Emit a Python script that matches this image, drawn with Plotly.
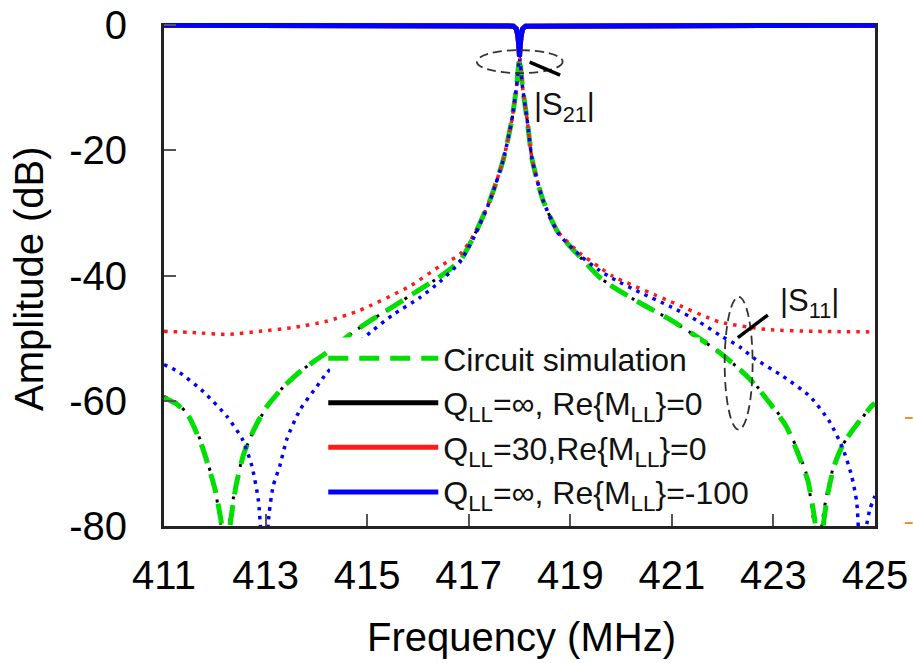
import plotly.graph_objects as go

FONT = "Liberation Sans, Arial, sans-serif"

# ---------------- data ----------------
# |S21| (all cases overlap at 0 dB with a narrow dip at 418 MHz)
s21_freq = [411.0, 417.88, 417.94, 417.97, 417.99, 418.0, 418.01, 418.03, 418.06, 418.12, 425.0]
s21_db = [0.0, -0.15, -0.6, -1.8, -3.6, -5.0, -3.6, -1.8, -0.6, -0.15, 0.0]

# |S11|, Q_LL = inf, Re{M_LL} = 0 (black)
s11_black_freq = [411.0, 411.25, 411.5, 411.75, 412.0, 412.12, 412.2, 412.28, 412.4, 412.55, 412.75,
                  413.0, 413.35, 413.7, 414.2, 414.75, 415.1, 415.5, 416.0, 416.43, 416.83, 417.12,
                  417.42, 417.68, 417.85, 417.94, 417.98, 418.0, 418.02, 418.06, 418.15, 418.25,
                  418.46, 418.76, 419.19, 419.58, 419.84, 420.4, 420.96, 421.5, 421.94, 422.34,
                  422.6, 422.93, 423.26, 423.52, 423.66, 423.8, 423.87, 423.95, 424.05, 424.17,
                  424.35, 424.64, 424.94, 425.0]
s11_black_db = [-59.3, -60.3, -62.5, -67.0, -74.0, -80.0, -88.0, -80.0, -74.0, -69.0, -65.0,
                -61.3, -57.8, -55.2, -52.3, -48.9, -47.0, -45.0, -42.4, -40.2, -37.6, -33.4,
                -27.9, -21.5, -15.1, -9.9, -6.5, -5.2, -6.5, -9.9, -15.1, -21.5,
                -27.9, -33.1, -37.0, -40.3, -41.8, -44.5, -47.0, -49.8, -52.3, -55.0,
                -57.0, -60.2, -64.0, -68.8, -72.0, -80.0, -88.0, -80.0, -75.0, -70.9,
                -67.2, -64.0, -60.6, -60.2]

# Circuit simulation (green), nearly identical to the black curve
s11_green_freq = [411.0, 411.25, 411.5, 411.75, 412.0, 412.14, 412.22, 412.3, 412.42, 412.57, 412.77,
                  413.0, 413.35, 413.7, 414.2, 414.75, 415.1, 415.5, 416.0, 416.43, 416.83, 417.12,
                  417.42, 417.68, 417.85, 417.94, 417.98, 418.0, 418.02, 418.06, 418.15, 418.25,
                  418.46, 418.76, 419.19, 419.58, 419.84, 420.4, 420.96, 421.5, 421.94, 422.34,
                  422.6, 422.93, 423.26, 423.52, 423.68, 423.83, 423.9, 423.98, 424.08, 424.2,
                  424.38, 424.66, 424.94, 425.0]
s11_green_db = [-59.5, -60.5, -62.7, -67.3, -74.0, -80.0, -88.0, -80.0, -73.5, -68.5, -64.6,
                -61.2, -57.8, -55.2, -52.3, -48.9, -47.0, -45.0, -42.4, -40.2, -37.6, -33.4,
                -27.9, -21.5, -15.1, -9.9, -6.5, -5.2, -6.5, -9.9, -15.1, -21.5,
                -27.9, -33.1, -37.0, -40.3, -41.8, -44.5, -47.0, -49.8, -52.3, -55.0,
                -57.1, -60.4, -64.2, -69.2, -72.8, -80.0, -88.0, -80.0, -74.5, -70.3,
                -66.8, -63.6, -60.8, -60.4]

# |S11|, Q_LL = 30, Re{M_LL} = 0 (red)
s11_red_freq = [411.0, 411.57, 412.24, 412.89, 413.54, 414.2, 414.84, 415.84, 416.43, 416.83, 417.12,
                417.42, 417.68, 417.85, 417.94, 417.98, 418.0, 418.02, 418.06, 418.15, 418.25,
                418.46, 418.76, 419.19, 419.58, 419.84, 420.96, 421.94, 422.86, 423.85, 425.0]
s11_red_db = [-48.9, -49.1, -49.4, -48.9, -48.3, -47.3, -45.6, -41.7, -38.5, -36.6, -33.2,
              -27.9, -21.5, -15.1, -9.9, -6.5, -5.2, -6.5, -9.9, -15.1, -21.5,
              -27.9, -33.0, -36.4, -38.7, -40.1, -44.1, -47.4, -48.6, -48.9, -49.0]

# |S11|, Q_LL = inf, Re{M_LL} = -100 (blue)
s11_blue_freq = [411.0, 411.31, 411.77, 412.24, 412.54, 412.73, 412.86, 412.97, 413.07, 413.15, 413.28,
                 413.42, 413.68, 414.01, 414.21, 414.6, 415.06, 415.5, 416.04, 416.43, 416.83, 417.12,
                 417.42, 417.68, 417.85, 417.94, 417.98, 418.0, 418.02, 418.06, 418.15, 418.25,
                 418.46, 418.76, 419.19, 419.58, 419.84, 420.4, 420.96, 421.5, 421.94, 422.34,
                 422.6, 423.19, 423.72, 424.11, 424.37, 424.54, 424.64, 424.72, 424.82, 424.9, 425.0]
s11_blue_db = [-54.2, -55.5, -58.5, -62.5, -66.1, -70.4, -76.0, -88.0, -78.0, -73.6, -70.4,
               -66.1, -61.4, -57.7, -55.5, -52.3, -49.1, -46.3, -43.5, -41.0, -37.8, -33.6,
               -28.0, -21.5, -15.1, -9.9, -6.5, -5.2, -6.5, -9.9, -15.1, -21.5,
               -27.9, -33.2, -36.8, -39.2, -40.5, -42.8, -44.9, -47.2, -49.5, -51.4,
               -53.1, -56.1, -59.3, -63.4, -67.7, -72.0, -76.2, -86.0, -80.5, -77.3, -75.2]

x_ticks = [411, 413, 415, 417, 419, 421, 423, 425]
y_ticks = [0, -20, -40, -60, -80]

legend_names = [
    "Circuit simulation",
    "Q<sub>LL</sub>=∞, Re{M<sub>LL</sub>}=0",
    "Q<sub>LL</sub>=30,Re{M<sub>LL</sub>}=0",
    "Q<sub>LL</sub>=∞, Re{M<sub>LL</sub>}=-100",
]

GREEN = "#00e000"
BLACK = "#000000"
RED = "#ff1a1a"
BLUE = "#0000ff"

fig = go.Figure()

# S21 traces (solid lines, carry the legend entries for the model curves)
for col, name, rank in [(BLACK, legend_names[1], 2), (RED, legend_names[2], 3), (BLUE, legend_names[3], 4)]:
    fig.add_trace(go.Scatter(x=s21_freq, y=s21_db, mode="lines", name=name, legendrank=rank,
                             line=dict(color=col, width=5), showlegend=True))

# S11 traces
fig.add_trace(go.Scatter(x=s11_black_freq, y=s11_black_db, mode="lines", showlegend=False,
                         line=dict(color=BLACK, width=3, dash="3px,8px", shape="spline", smoothing=0.6)))
fig.add_trace(go.Scatter(x=s11_green_freq, y=s11_green_db, mode="lines", name=legend_names[0],
                         legendrank=1,
                         line=dict(color=GREEN, width=5, dash="20px,11px", shape="spline", smoothing=0.6)))
fig.add_trace(go.Scatter(x=s11_red_freq, y=s11_red_db, mode="lines", showlegend=False,
                         line=dict(color=RED, width=3.5, dash="3.5px,6px", shape="spline", smoothing=0.6)))
fig.add_trace(go.Scatter(x=s11_blue_freq, y=s11_blue_db, mode="lines", showlegend=False,
                         line=dict(color=BLUE, width=3.5, dash="3.5px,5.5px", shape="spline", smoothing=0.6)))

axis_common = dict(showgrid=False, zeroline=False, showline=True, linecolor="#222", linewidth=3,
                   ticks="inside", ticklen=12, tickwidth=2, tickcolor="#555",
                   tickfont=dict(family=FONT, size=40, color="#000"))

fig.update_xaxes(range=[411, 425], tickvals=x_ticks, ticktext=[str(t) for t in x_ticks],
                 ticklabelstandoff=12, mirror=False, **axis_common)
fig.update_yaxes(range=[-80, 0.35], tickvals=y_ticks, ticktext=[str(t) for t in y_ticks],
                 ticklabelstandoff=26, mirror=True, **axis_common)

ann_font = dict(family=FONT, size=31, color="#111")
fig.update_layout(
    width=913, height=663,
    margin=dict(l=164, r=38, t=23, b=137, autoexpand=False),
    paper_bgcolor="white", plot_bgcolor="white",
    legend=dict(x=0.224, y=0.388, xanchor="left", yanchor="top", bgcolor="rgba(255,255,255,0)",
                borderwidth=0, itemwidth=110, font=dict(family=FONT, size=32, color="#111"),
                tracegroupgap=0, traceorder="normal"),
    annotations=[
        dict(text="Frequency (MHz)", xref="paper", yref="paper", x=0.503, y=-0.2207,
             xanchor="center", yanchor="middle", showarrow=False,
             font=dict(family=FONT, size=40, color="#000")),
        dict(text="Amplitude (dB)", xref="paper", yref="paper", x=-0.19, y=0.493,
             xanchor="center", yanchor="middle", showarrow=False, textangle=-90,
             font=dict(family=FONT, size=40, color="#000")),
        dict(text="|S<sub>21</sub>|", xref="x", yref="y", x=418.24, y=-13.1,
             xanchor="left", yanchor="middle", showarrow=False, font=ann_font),
        dict(text="|S<sub>11</sub>|", xref="x", yref="y", x=423.09, y=-44.3,
             xanchor="left", yanchor="middle", showarrow=False, font=ann_font),
    ],
    shapes=[
        # white background behind the legend (covers only its left/central part, as in the reference)
        dict(type="rect", xref="x", yref="y", x0=414.27, x1=421.55, y0=-49.9, y1=-76.7,
             fillcolor="white", line=dict(width=0), layer="above"),
        dict(type="circle", xref="x", yref="y", x0=417.16, x1=418.85, y0=-3.99, y1=-7.66,
             line=dict(color="#333", width=1.8, dash="9px,5px")),
        dict(type="line", xref="x", yref="y", x0=418.2, y0=-5.9, x1=418.8, y1=-7.97,
             line=dict(color="#000", width=3.5)),
        dict(type="circle", xref="x", yref="y", x0=422.04, x1=422.59, y0=-43.4, y1=-64.6,
             line=dict(color="#333", width=1.8, dash="9px,5px")),
        dict(type="line", xref="x", yref="y", x0=422.3, y0=-49.9, x1=422.89, y1=-46.3,
             line=dict(color="#000", width=3.5)),
        dict(type="line", xref="paper", yref="paper", x0=1.042, x1=1.053, y0=0.2147, y1=0.2147,
             line=dict(color="#e8903a", width=2)),
        dict(type="line", xref="paper", yref="paper", x0=1.042, x1=1.053, y0=0.006, y1=0.006,
             line=dict(color="#e8903a", width=2)),
    ],
)

fig.write_html("out.html")
